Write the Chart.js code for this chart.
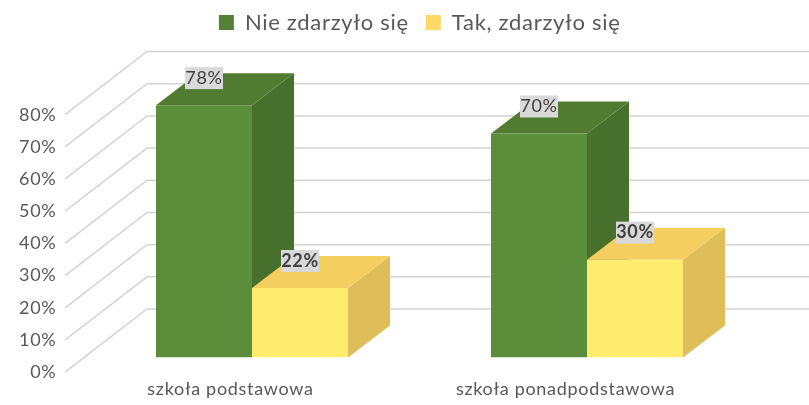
<!DOCTYPE html>
<html><head><meta charset="utf-8">
<style>html,body{margin:0;padding:0;background:#fff}canvas{display:block}</style>
<script src="https://cdn.jsdelivr.net/npm/chart.js@4"></script></head>
<body><canvas id="c" width="809" height="405"></canvas>
<script>
const categories = ['szkoła podstawowa', 'szkoła ponadpodstawowa'];
const seriesNames = ['Nie zdarzyło się', 'Tak, zdarzyło się'];
const nieZdarzylo = [78.4, 69.6];
const takZdarzylo = [21.6, 30.4];
const yTicks = [0, 10, 20, 30, 40, 50, 60, 70, 80];

const FONT = 'Lato, Carlito, sans-serif';
const DX = 42, DY = 32;
const faces = [
  {front:'#5c8d3a', top:'#517b31', side:'#47702c', legend:'#548235'},
  {front:'#feec6e', top:'#f4cf60', side:'#dfbd58', legend:'#ffd966'}
];

const scene = {
  id:'scene',
  beforeLayout(chart){
    chart.ctx.letterSpacing = '0.7px';
    const l = chart.legend;
    l.fit = function(){ Object.getPrototypeOf(l).fit.call(l); l.height = 100; };
  },
  afterLayout(chart){
    const l = chart.legend;
    l.left += 42.5; l.right += 42.5; l.top -= 5.5; l.bottom -= 5.5;
  },
  beforeDatasetsDraw(chart){
    const g = chart.ctx, y = chart.scales.y;
    g.save();
    g.strokeStyle = '#d3d3d3'; g.lineWidth = 1.5;
    yTicks.forEach(v=>{
      const p = y.getPixelForValue(v);
      g.beginPath();
      g.moveTo(65, p+14.7);
      g.lineTo(147, p-48.5);
      g.lineTo(809, p-48.5);
      g.stroke();
    });
    chart.data.datasets.forEach((d,i)=>{
      chart.getDatasetMeta(i).data.forEach(b=>{
        const L=b.x-b.width/2, R=b.x+b.width/2, T=b.y, B=b.base, c=faces[i];
        g.fillStyle=c.side;
        g.beginPath();g.moveTo(R,T);g.lineTo(R+DX,T-DY);g.lineTo(R+DX,B-DY);g.lineTo(R,B);g.closePath();g.fill();
        g.fillStyle=c.top;
        g.beginPath();g.moveTo(L,T);g.lineTo(L+DX,T-DY);g.lineTo(R+DX,T-DY);g.lineTo(R,T);g.closePath();g.fill();
      });
    });
    g.restore();
  },
  afterDatasetsDraw(chart){
    const g = chart.ctx;
    g.save();
    chart.data.datasets.forEach((d,i)=>{
      chart.getDatasetMeta(i).data.forEach((b,j)=>{
        const cx=b.x, cy=b.y-27;
        g.fillStyle='#d9d9d9';
        g.fillRect(cx-19,cy-11,38,22);
        g.fillStyle='#404040';
        g.font=(i===1?'bold ':'')+'18px '+FONT;
        g.textAlign='center';g.textBaseline='middle';
        g.fillText(Math.round(d.data[j])+'%',cx,cy);
      });
    });
    g.restore();
  }
};

new Chart(document.getElementById('c'),{
  type:'bar',
  data:{labels:categories,datasets:[
    {label:seriesNames[0],data:nieZdarzylo,backgroundColor:faces[0].front,categoryPercentage:192/335,barPercentage:1},
    {label:seriesNames[1],data:takZdarzylo,backgroundColor:faces[1].front,categoryPercentage:192/335,barPercentage:1}
  ]},
  options:{
    responsive:false,animation:false,
    layout:{padding:{left:0,right:54.5,top:0,bottom:0}},
    plugins:{
      tooltip:{enabled:false},
      legend:{position:'top',labels:{
        font:{family:FONT,size:22},color:'#595959',boxWidth:15,boxHeight:15,padding:17,
        generateLabels(c){return c.data.datasets.map((d,i)=>({text:d.label,fillStyle:faces[i].legend,strokeStyle:faces[i].legend,lineWidth:0,datasetIndex:i,fontColor:'#595959'}));}
      }}
    },
    scales:{
      x:{grid:{display:false,drawTicks:false},border:{display:false},
        ticks:{font:{family:FONT,size:18},color:'#595959',padding:21,labelOffset:-21.5,maxRotation:0},
        afterFit(s){s.height=47.5;}},
      y:{min:0,max:80,grid:{display:false,drawTicks:false},border:{display:false},
        ticks:{stepSize:10,font:{family:FONT,size:18},color:'#595959',padding:28,labelOffset:14.7,callback:v=>v+'%'},
        afterFit(s){s.width=84.5;}}
    }
  },
  plugins:[scene]
});
</script></body></html>
